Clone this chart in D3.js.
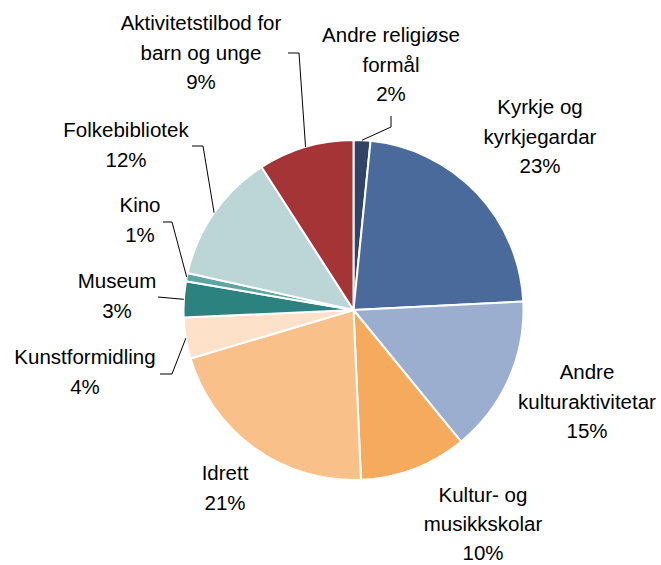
<!DOCTYPE html>
<html>
<head>
<meta charset="utf-8">
<script src="https://cdn.jsdelivr.net/npm/d3@7/dist/d3.min.js"></script>
<style>
  html, body { margin: 0; padding: 0; background: #fff; }
  svg { display: block; }
  .label { font-family: "Liberation Sans", Arial, sans-serif; font-size: 20.5px; fill: #000; }
  .leader { fill: none; stroke: #000; stroke-width: 1; }
</style>
</head>
<body>
<div id="chart"></div>
<script>
'use strict';

// categories, clockwise from 12 o'clock
var categories = [
  'Andre religiøse formål',
  'Kyrkje og kyrkjegardar',
  'Andre kulturaktivitetar',
  'Kultur- og musikkskolar',
  'Idrett',
  'Kunstformidling',
  'Museum',
  'Kino',
  'Folkebibliotek',
  'Aktivitetstilbod for barn og unge'
];
// share in percent
var shares = [1.6, 22.6, 14.9, 10.2, 21.1, 3.9, 3.4, 0.8, 12.4, 9.1];

var colors = ['#2f4467', '#4b6a9c', '#9baed0', '#f6aa5e', '#f9c189', '#fde2c9',
              '#2c827f', '#5fa5a2', '#bcd5d6', '#a53436'];

// label text lines (percent line is added from the data)
var labelLines = [
  ['Andre religiøse', 'formål'],
  ['Kyrkje og', 'kyrkjegardar'],
  ['Andre', 'kulturaktivitetar'],
  ['Kultur- og', 'musikkskolar'],
  ['Idrett'],
  ['Kunstformidling'],
  ['Museum'],
  ['Kino'],
  ['Folkebibliotek'],
  ['Aktivitetstilbod for', 'barn og unge']
];

// label placement (centre x, first line centre y) and leader lines
var labelPos = [
  { x: 391, y: 35, leader: [[391, 116], [391, 127]] },
  { x: 540, y: 107 },
  { x: 587, y: 372 },
  { x: 483, y: 495, gap: 28.8 },
  { x: 225, y: 473 },
  { x: 85,  y: 357, leader: [[160, 374], [172, 374]] },
  { x: 117, y: 281, leader: [[158, 297]] },
  { x: 140, y: 205, leader: [[163, 222], [172, 222]] },
  { x: 126, y: 130, leader: [[192, 146], [203, 146]] },
  { x: 201, y: 23,  leader: [[288, 53], [299, 53]] }
];

var width = 661, height = 565;
var cx = 353.5, cy = 310, radius = 170;
var lineGap = 29.5;

var data = categories.map(function(c, i) { return { name: c, value: shares[i], i: i }; });
var total = d3.sum(shares);
var pctFmt = d3.format('.0%');

var pie = d3.pie()
    .sort(null)
    .value(function(d) { return d.value; });

var arc = d3.arc()
    .innerRadius(0)
    .outerRadius(radius);

var edge = d3.arc()
    .innerRadius(radius)
    .outerRadius(radius);

var svg = d3.select('#chart').append('svg')
    .attr('width', width)
    .attr('height', height);

var g = svg.append('g')
    .attr('transform', 'translate(' + cx + ',' + cy + ')');

var arcs = pie(data);

g.selectAll('path.slice')
    .data(arcs)
    .enter().append('path')
      .attr('class', 'slice')
      .attr('d', arc)
      .attr('fill', function(d) { return colors[d.data.i]; })
      .attr('stroke', '#fff')
      .attr('stroke-width', 2)
      .attr('stroke-linejoin', 'round');

// leader lines: label side points, then the slice edge at its mid angle
var line = d3.line();
svg.selectAll('path.leader')
    .data(arcs.filter(function(d) { return labelPos[d.data.i].leader; }))
    .enter().append('path')
      .attr('class', 'leader')
      .attr('d', function(d) {
        var p = edge.centroid(d);
        var pts = labelPos[d.data.i].leader.concat([[p[0] + cx, p[1] + cy]]);
        return line(pts);
      });

var labels = svg.selectAll('text.label')
    .data(arcs)
    .enter().append('text')
      .attr('class', 'label')
      .attr('text-anchor', 'middle');

labels.each(function(d) {
  var pos = labelPos[d.data.i];
  var gap = pos.gap || lineGap;
  var lines = labelLines[d.data.i].concat([pctFmt(d.data.value / total)]);
  var t = d3.select(this);
  lines.forEach(function(s, k) {
    t.append('tspan')
        .attr('x', pos.x)
        .attr('y', pos.y + k * gap)
        .attr('dy', '0.36em')
        .text(s);
  });
});
</script>
</body>
</html>
